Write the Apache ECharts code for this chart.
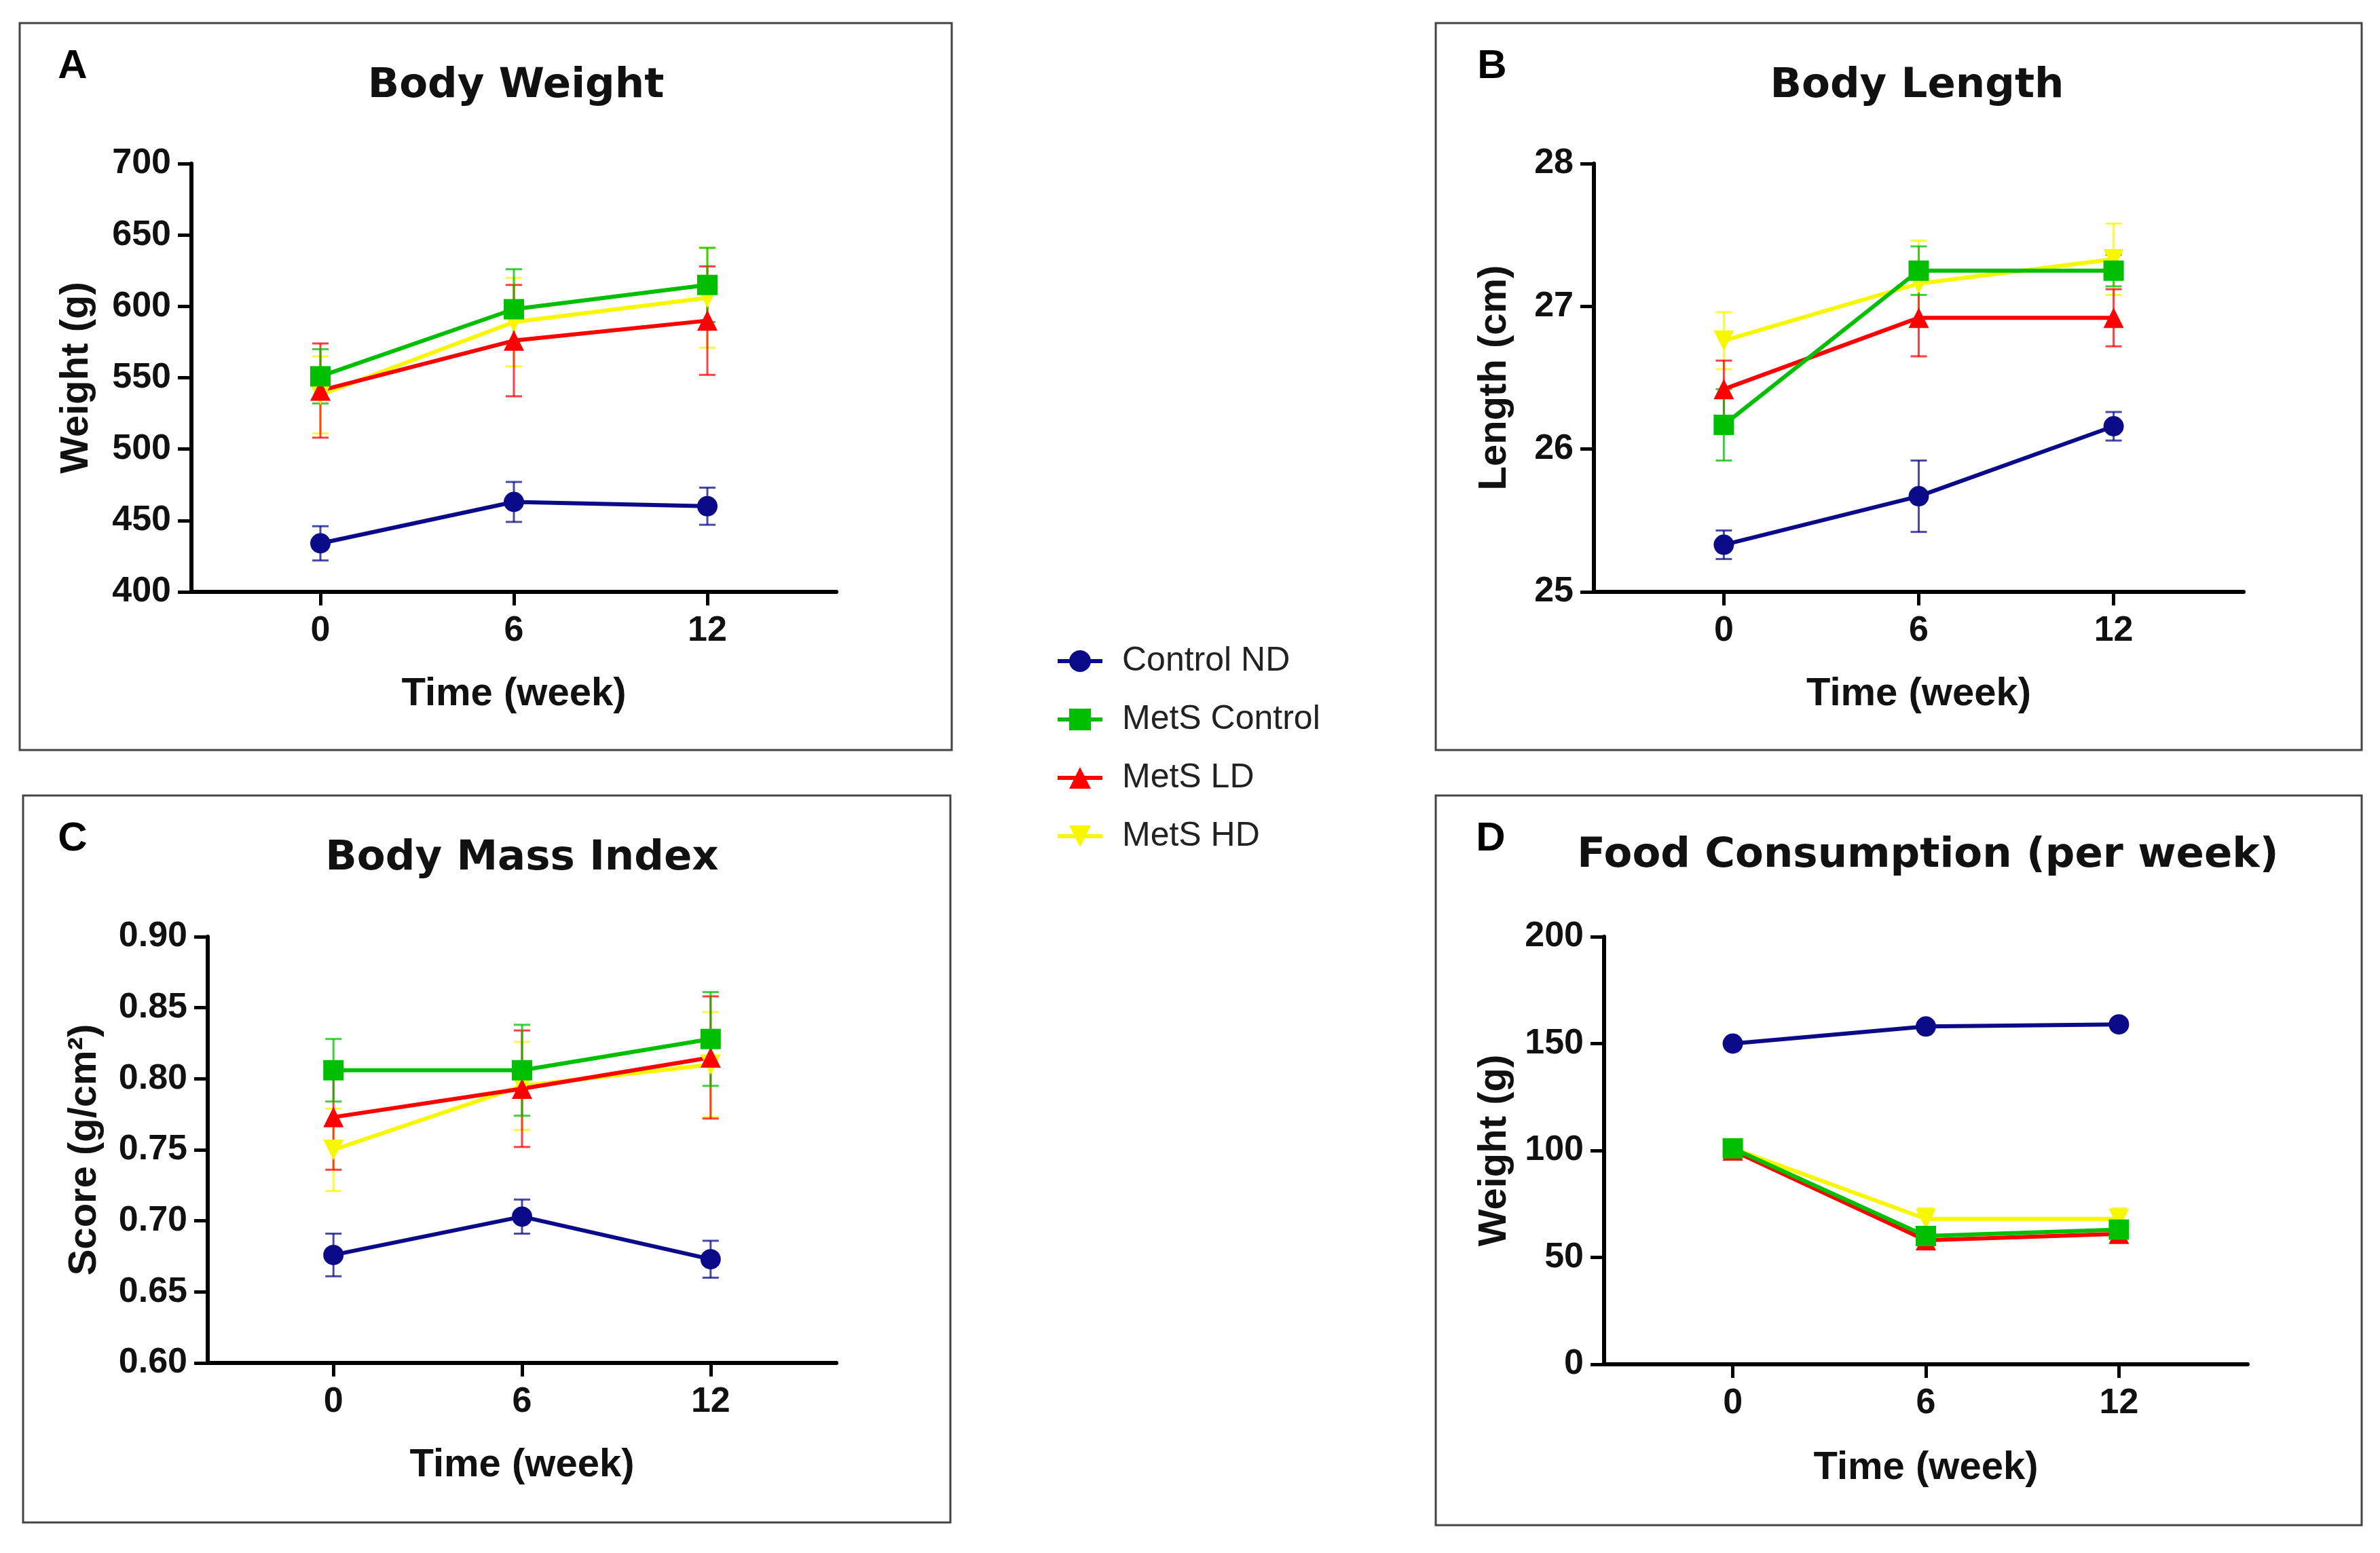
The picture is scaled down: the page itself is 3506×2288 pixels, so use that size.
<!DOCTYPE html>
<html>
<head>
<meta charset="utf-8">
<script src="https://cdn.jsdelivr.net/npm/echarts@6/dist/echarts.min.js"></script>
<style>html,body{margin:0;padding:0;background:#fff;}#c{width:3506px;height:2288px;}</style>
</head>
<body>
<div id="c"></div>
<script>
// ---------- data ----------
const weeks = [0, 6, 12];
const xTickLabels = [0, 6, 12];
const groupNames = ['Control ND', 'MetS Control', 'MetS LD', 'MetS HD'];

// Body weight (g)
const weightControlND = [434, 463, 460];
const weightMetSControl = [551, 598, 615];
const weightMetSLD = [541, 576, 590];
const weightMetSHD = [538, 589, 606];
const weightErrControlND = [12, 14, 13];
const weightErrMetSControl = [19, 28, 26];
const weightErrMetSLD = [33, 39, 38];
const weightErrMetSHD = [27, 31, 35];

// Body length (cm)
const lengthControlND = [25.33, 25.67, 26.16];
const lengthMetSControl = [26.17, 27.25, 27.25];
const lengthMetSLD = [26.42, 26.92, 26.92];
const lengthMetSHD = [26.76, 27.16, 27.33];
const lengthErrControlND = [0.1, 0.25, 0.1];
const lengthErrMetSControl = [0.25, 0.17, 0.11];
const lengthErrMetSLD = [0.2, 0.27, 0.2];
const lengthErrMetSHD = [0.2, 0.3, 0.25];

// Body mass index (g/cm2)
const bmiControlND = [0.676, 0.703, 0.673];
const bmiMetSControl = [0.806, 0.806, 0.828];
const bmiMetSLD = [0.773, 0.793, 0.815];
const bmiMetSHD = [0.750, 0.795, 0.810];
const bmiErrControlND = [0.015, 0.012, 0.013];
const bmiErrMetSControl = [0.022, 0.032, 0.033];
const bmiErrMetSLD = [0.037, 0.041, 0.043];
const bmiErrMetSHD = [0.029, 0.031, 0.037];

// Food consumption per week (g)
const foodControlND = [150, 158, 159];
const foodMetSControl = [101, 60, 63];
const foodMetSLD = [100, 58, 61];
const foodMetSHD = [101, 68, 68];
const foodErrControlND = [1, 1, 1];
const foodErrMetSControl = [2, 3, 3];
const foodErrMetSLD = [2, 4, 4];
const foodErrMetSHD = [2, 5, 5];

// ---------- styling ----------
const colors = {'Control ND': '#0b0b8a', 'MetS Control': '#00bf00', 'MetS LD': '#ff0000', 'MetS HD': '#f7f700'};
const symbols = {'Control ND': 'circle', 'MetS Control': 'rect', 'MetS LD': 'triangle', 'MetS HD': 'path://M0,0 L10,0 L5,9 Z'};
const drawOrder = ['Control ND', 'MetS HD', 'MetS LD', 'MetS Control'];

const panels = [
  {title: 'Body Weight', letter: 'A', yName: 'Weight (g)', min: 400, max: 700, interval: 50, dec: 0,
   grid: {left: 282, top: 241, width: 950, height: 631}, yGap: 140, xGap: 122,
   means: {'Control ND': weightControlND, 'MetS Control': weightMetSControl, 'MetS LD': weightMetSLD, 'MetS HD': weightMetSHD},
   errs: {'Control ND': weightErrControlND, 'MetS Control': weightErrMetSControl, 'MetS LD': weightErrMetSLD, 'MetS HD': weightErrMetSHD},
   box: [29, 34, 1373, 1071], titlePos: [760, 127], letterPos: [107, 98]},
  {title: 'Body Length', letter: 'B', yName: 'Length (cm)', min: 25, max: 28, interval: 1, dec: 0,
   grid: {left: 2348, top: 241, width: 957, height: 631}, yGap: 117, xGap: 122,
   means: {'Control ND': lengthControlND, 'MetS Control': lengthMetSControl, 'MetS LD': lengthMetSLD, 'MetS HD': lengthMetSHD},
   errs: {'Control ND': lengthErrControlND, 'MetS Control': lengthErrMetSControl, 'MetS LD': lengthErrMetSLD, 'MetS HD': lengthErrMetSHD},
   box: [2115, 34, 1364, 1071], titlePos: [2824, 127], letterPos: [2198, 98]},
  {title: 'Body Mass Index', letter: 'C', yName: 'Score (g/cm²)', min: 0.6, max: 0.9, interval: 0.05, dec: 2,
   grid: {left: 306, top: 1380, width: 926, height: 628}, yGap: 152, xGap: 122,
   means: {'Control ND': bmiControlND, 'MetS Control': bmiMetSControl, 'MetS LD': bmiMetSLD, 'MetS HD': bmiMetSHD},
   errs: {'Control ND': bmiErrControlND, 'MetS Control': bmiErrMetSControl, 'MetS LD': bmiErrMetSLD, 'MetS HD': bmiErrMetSHD},
   box: [34, 1172, 1366, 1071], titlePos: [769, 1265], letterPos: [107, 1236]},
  {title: 'Food Consumption (per week)', letter: 'D', yName: 'Weight (g)', min: 0, max: 200, interval: 50, dec: 0,
   grid: {left: 2363, top: 1380, width: 948, height: 630}, yGap: 132, xGap: 124,
   means: {'Control ND': foodControlND, 'MetS Control': foodMetSControl, 'MetS LD': foodMetSLD, 'MetS HD': foodMetSHD},
   errs: {'Control ND': foodErrControlND, 'MetS Control': foodErrMetSControl, 'MetS LD': foodErrMetSLD, 'MetS HD': foodErrMetSHD},
   box: [2115, 1172, 1364, 1075], titlePos: [2840, 1261], letterPos: [2196, 1236]}
];

const baseFont = 'Liberation Sans';
const tickFont = "'Liberation Sans Narrow', 'Liberation Sans'";
const grids = [], xAxes = [], yAxes = [], series = [], graphics = [];

panels.forEach((p, i) => {
  grids.push(Object.assign({containLabel: false}, p.grid));
  xAxes.push({
    type: 'value', gridIndex: i, min: -4, max: 16,
    name: 'Time (week)', nameLocation: 'middle', nameGap: p.xGap,
    nameTextStyle: {fontFamily: baseFont, fontWeight: 'bold', fontSize: 58, color: '#111'},
    axisLine: {show: true, onZero: false, lineStyle: {color: '#000', width: 6}},
    axisTick: {show: true, length: 20, lineStyle: {color: '#000', width: 5}, customValues: xTickLabels},
    axisLabel: {fontFamily: tickFont, fontWeight: 'bold', fontSize: 52, color: '#111', margin: 32, customValues: xTickLabels},
    splitLine: {show: false}
  });
  yAxes.push({
    type: 'value', gridIndex: i, min: p.min, max: p.max, interval: p.interval,
    name: p.yName, nameLocation: 'middle', nameGap: p.yGap,
    nameTextStyle: {fontFamily: baseFont, fontWeight: 'bold', fontSize: 58, color: '#111'},
    axisLine: {show: true, onZero: false, lineStyle: {color: '#000', width: 6}},
    axisTick: {show: true, length: 20, lineStyle: {color: '#000', width: 5}},
    axisLabel: {fontFamily: tickFont, fontWeight: 'bold', fontSize: 52, color: '#111', margin: 30,
      formatter: v => v.toFixed(p.dec)},
    splitLine: {show: false}
  });
  drawOrder.forEach(name => {
    const m = p.means[name], e = p.errs[name], col = colors[name];
    series.push({
      type: 'custom', name: name + ' error', xAxisIndex: i, yAxisIndex: i, silent: true,
      data: weeks.map((w, k) => [w, m[k] - e[k], m[k] + e[k]]),
      encode: {x: 0, y: [1, 2]},
      renderItem: (params, api) => {
        const x = api.value(0);
        const lo = api.coord([x, api.value(1)]);
        const hi = api.coord([x, api.value(2)]);
        const cw = 12;
        const st = {stroke: col, lineWidth: 3, opacity: 0.75};
        return {type: 'group', children: [
          {type: 'line', shape: {x1: lo[0], y1: lo[1], x2: hi[0], y2: hi[1]}, style: st},
          {type: 'line', shape: {x1: lo[0] - cw, y1: lo[1], x2: lo[0] + cw, y2: lo[1]}, style: st},
          {type: 'line', shape: {x1: hi[0] - cw, y1: hi[1], x2: hi[0] + cw, y2: hi[1]}, style: st}
        ]};
      }
    });
    series.push({
      type: 'line', name: name, xAxisIndex: i, yAxisIndex: i,
      data: weeks.map((w, k) => [w, m[k]]),
      symbol: symbols[name], symbolSize: 30,
      showAllSymbol: true,
      lineStyle: {color: col, width: 6},
      itemStyle: {color: col},
      animation: false
    });
  });
  const b = p.box;
  graphics.push({type: 'rect', shape: {x: b[0], y: b[1], width: b[2], height: b[3]},
    style: {fill: 'none', stroke: '#444', lineWidth: 3}, z: -1});
  graphics.push({type: 'text', x: p.titlePos[0], y: p.titlePos[1],
    style: {text: p.title, fontFamily: 'DejaVu Sans', fontWeight: 'bold', fontSize: 61, fill: '#111',
      textAlign: 'center', textVerticalAlign: 'middle'}});
  graphics.push({type: 'text', x: p.letterPos[0], y: p.letterPos[1],
    style: {text: p.letter, fontFamily: baseFont, fontWeight: 'bold', fontSize: 60, fill: '#000',
      textAlign: 'center', textVerticalAlign: 'middle'}});
});

const chart = echarts.init(document.getElementById('c'), null, {renderer: 'canvas', width: 3506, height: 2288});
chart.setOption({
  backgroundColor: '#ffffff',
  animation: false,
  grid: grids,
  xAxis: xAxes,
  yAxis: yAxes,
  legend: {
    data: groupNames, orient: 'vertical', left: 1550, top: 944,
    itemWidth: 66, itemHeight: 40, itemGap: 36, selectedMode: false,
    lineStyle: {width: 6},
    textStyle: {fontFamily: baseFont, fontSize: 50, color: '#222', padding: [0, 0, 0, 24]}
  },
  graphic: graphics,
  series: series
});
</script>
</body>
</html>
